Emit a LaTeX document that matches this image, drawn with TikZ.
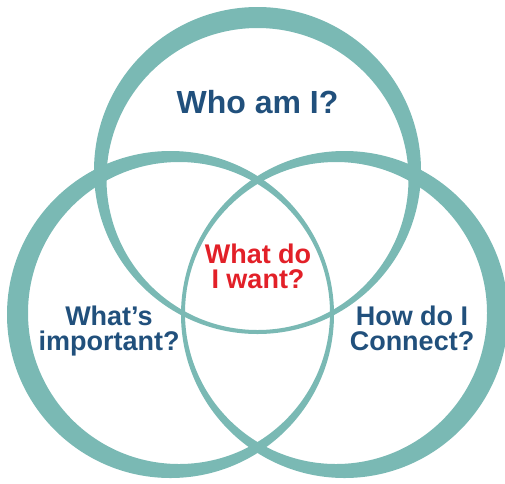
\documentclass[tikz,border=0pt]{standalone}
\usepackage{fontspec}
\setmainfont{Liberation Sans}
\usepackage{xcolor}

\definecolor{ring}{RGB}{122,185,180}
\definecolor{question}{RGB}{33,80,124}
\definecolor{wantred}{RGB}{226,32,40}

\tikzset{
	label text/.style={anchor=base, align=center, text=question,
		font=\fontsize{27}{25}\selectfont\bfseries},
	ring band/.style={fill=ring, even odd rule}
}

\begin{document}
\begin{tikzpicture}[x=1pt, y=-1pt]
		\useasboundingbox (0,0) rectangle (505,483);
		\clip (0,0) rectangle (505,483);
		
		% each ring: outer circle minus a shifted inner one
		\path[ring band] (257.5,170.5) circle [radius=163.5pt] (257.5,179) circle [radius=151pt];
		\path[ring band] (170.5,314.5) circle [radius=163.5pt] (179,313) circle [radius=151pt];
		\path[ring band] (344.5,314.5) circle [radius=163.5pt] (336,313) circle [radius=151pt];
		
		% base sits on the last line
		\node (Who am I) at (257.5,113) [label text, font=\fontsize{32}{30}\selectfont\bfseries]{Who am I?};
		\node (What I want) at (258,288) [label text, text=wantred]{What do\\I want?};
		\node (Important) at (109,350) [label text]{What’s\\important?};
		\node (Connect) at (412,350) [label text]{How do I\\Connect?};
		\end{tikzpicture}
\end{document}
